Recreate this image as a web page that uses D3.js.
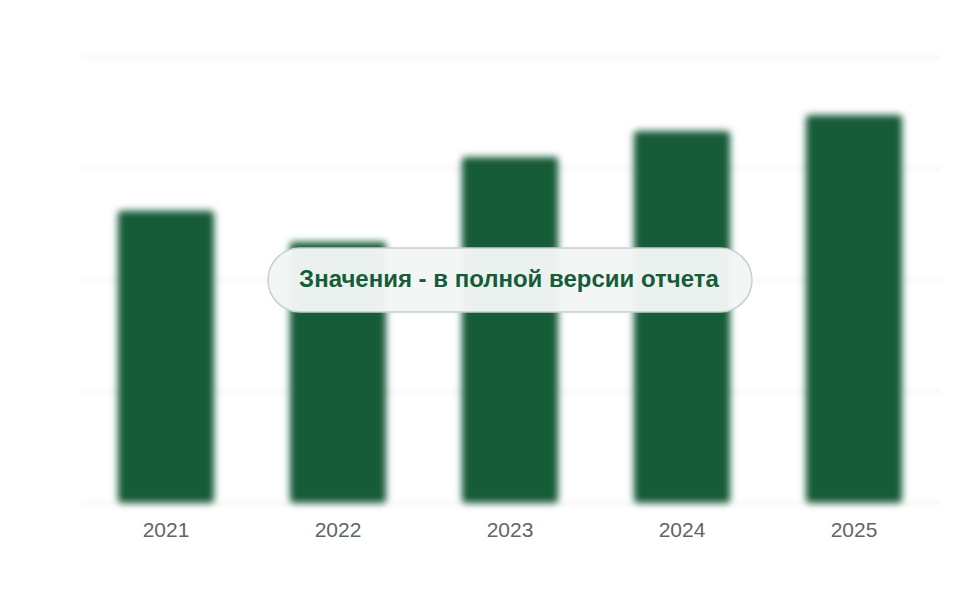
<!DOCTYPE html>
<html>
<head>
<meta charset="utf-8">
<script src="https://cdn.jsdelivr.net/npm/d3@7"></script>
<style>
  html, body { margin: 0; padding: 0; background: #ffffff; }
  svg { display: block; }
</style>
</head>
<body>
<svg id="chart" width="960" height="600"></svg>
<script>
const categories = ["2021", "2022", "2023", "2024", "2025"];
const values = [65.5, 58.5, 77.6, 83.4, 87.0];
const yTicks = [0, 25, 50, 75, 100];
const overlayText = "Значения - в полной версии отчета";

const svg = d3.select("#chart");
const margin = { top: 57, right: 20, bottom: 97, left: 80 };
const width = 960 - margin.left - margin.right;
const height = 600 - margin.top - margin.bottom;

const defs = svg.append("defs");
defs.append("filter").attr("id", "blurBars")
  .attr("x", "-20%").attr("y", "-20%").attr("width", "140%").attr("height", "140%")
  .append("feGaussianBlur").attr("stdDeviation", 3.5);
defs.append("filter").attr("id", "blurGrid")
  .attr("x", "-5%").attr("y", "-500%").attr("width", "110%").attr("height", "1100%")
  .append("feGaussianBlur").attr("stdDeviation", 2);

const g = svg.append("g").attr("transform", `translate(${margin.left},${margin.top})`);

const x = d3.scaleBand().domain(categories).range([0, width]).paddingInner(0.44).paddingOuter(0.22);
const y = d3.scaleLinear().domain([0, 100]).range([height, 0]);

// gridlines
g.append("g").attr("filter", "url(#blurGrid)")
  .selectAll("line").data(yTicks).join("line")
  .attr("x1", 0).attr("x2", width)
  .attr("y1", d => y(d)).attr("y2", d => y(d))
  .attr("stroke", "#f0f0f0").attr("stroke-width", 2);

// bars
g.append("g").attr("filter", "url(#blurBars)")
  .selectAll("rect").data(values).join("rect")
  .attr("x", (d, i) => x(categories[i]))
  .attr("width", x.bandwidth())
  .attr("y", d => y(d))
  .attr("height", d => height - y(d))
  .attr("rx", 4)
  .attr("fill", "#165c38");

// x axis labels
const xAxis = g.append("g").attr("transform", `translate(0,${height})`)
  .call(d3.axisBottom(x).tickSize(0).tickPadding(19));
xAxis.select(".domain").remove();
xAxis.selectAll("text")
  .attr("font-family", "Liberation Sans, Arial, sans-serif")
  .attr("font-size", 21)
  .attr("fill", "#5f6664");

// overlay badge
const bw = 484, bh = 64;
const bx = 510 - bw / 2, by = 280 - bh / 2;
svg.append("rect")
  .attr("x", bx).attr("y", by).attr("width", bw).attr("height", bh)
  .attr("rx", 32).attr("ry", 32)
  .attr("fill", "#f3f6f5").attr("fill-opacity", 0.97)
  .attr("stroke", "#c6d1cb").attr("stroke-width", 1.5);
svg.append("text")
  .attr("x", 509).attr("y", 281)
  .attr("text-anchor", "middle").attr("dominant-baseline", "middle")
  .attr("font-family", "Liberation Sans, Arial, sans-serif")
  .attr("font-weight", "bold").attr("font-size", 24)
  .attr("fill", "#165c38")
  .text(overlayText);
</script>
</body>
</html>
